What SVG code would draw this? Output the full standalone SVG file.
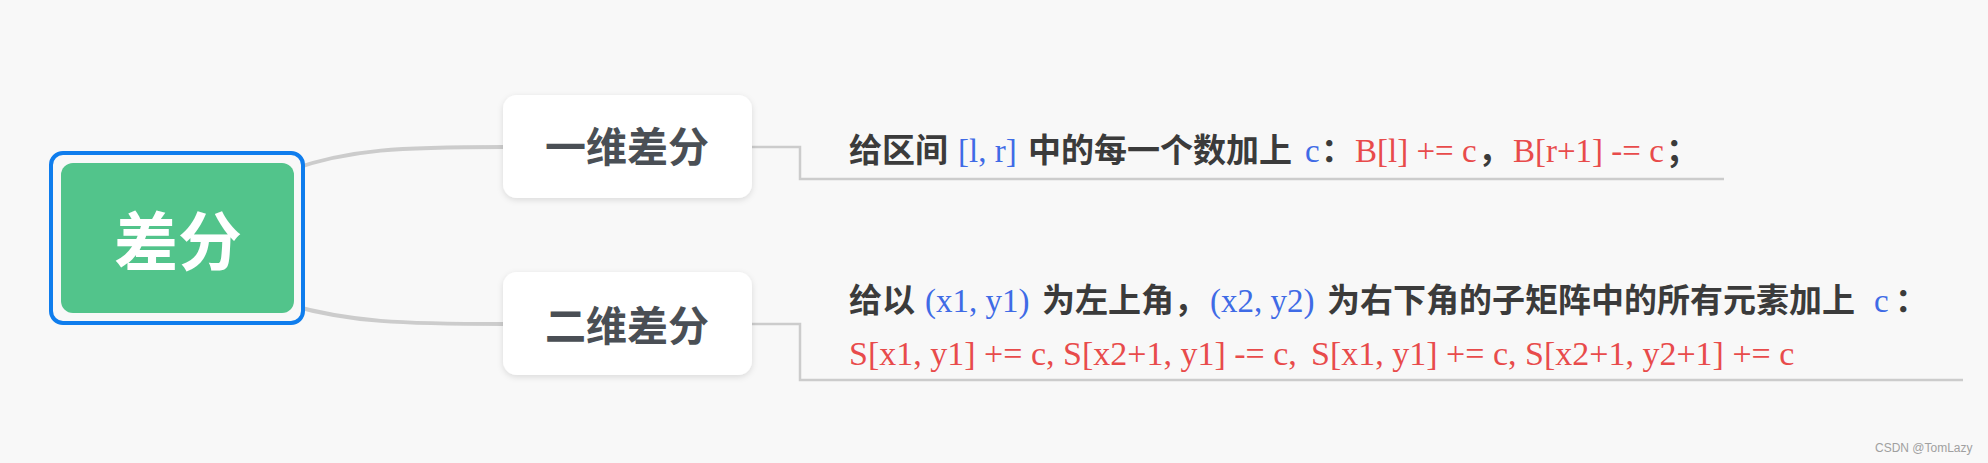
<svg xmlns="http://www.w3.org/2000/svg" width="1988" height="463" viewBox="0 0 1988 463">
<style>
.cjk{font-family:"Liberation Serif","Noto Sans CJK SC",serif;font-weight:bold;fill:#3b3b3b;font-size:33px}
.lat{font-family:"Liberation Serif","Noto Sans CJK SC",serif;font-size:33px}
.big{font-size:34px}
.blue{fill:#3f6be6}
.red{fill:#e84b4b}
.node{fill:#ffffff}
.ntext{font-family:"Liberation Serif","Noto Sans CJK SC",serif;font-weight:bold;font-size:41px;fill:#4a4f55;text-anchor:middle}
.curve{fill:none;stroke:#cccccc;stroke-width:4}
.elbow{fill:none;stroke:#cccccc;stroke-width:2.5}
</style>
<defs>
<filter id="sh" x="-20%" y="-30%" width="140%" height="160%">
<feDropShadow dx="0" dy="2" stdDeviation="3" flood-color="#000000" flood-opacity="0.12"/>
</filter>
</defs>
<rect x="0" y="0" width="1988" height="463" fill="#f8f8f8"/>
<g id="connectors">
<path class="curve" d="M 290 170 C 350 149, 400 147, 505 147"/>
<path class="curve" d="M 290 305 C 350 322, 400 324, 505 324"/>
<path class="elbow" d="M 752 147 H 800 V 179 H 1724"/>
<path class="elbow" d="M 752 324 H 800 V 380 H 1963"/>
</g>
<g id="root">
<rect x="51" y="153" width="252" height="170" rx="12" fill="#f8f8f8" stroke="#0f7ded" stroke-width="4"/>
<rect x="61" y="163" width="233" height="150" rx="12" fill="#52c48b"/>
<text x="178" y="265" text-anchor="middle" font-family="Liberation Serif, Noto Sans CJK SC, serif" font-weight="bold" font-size="64" fill="#ffffff">差分</text>
</g>
<g id="node1">
<rect class="node" x="503" y="95" width="249" height="103" rx="14" filter="url(#sh)"/>
<text class="ntext" x="627" y="162">一维差分</text>
</g>
<g id="node2">
<rect class="node" x="503" y="272" width="249" height="103" rx="14" filter="url(#sh)"/>
<text class="ntext" x="627" y="341">二维差分</text>
</g>
<g id="text1">
<text class="cjk" x="849" y="162">给区间</text>
<text class="lat blue" x="958" y="162">[l, r]</text>
<text class="cjk" x="1028" y="162">中的每一个数加上</text>
<text class="lat blue" x="1305" y="162">c</text>
<text class="cjk" x="1321" y="162">：</text>
<text class="lat red" x="1355" y="162">B[l] += c</text>
<text class="cjk" x="1478" y="162">，</text>
<text class="lat red" x="1513" y="162">B[r+1] -= c</text>
<text class="cjk" x="1666" y="162">；</text>
</g>
<g id="text2">
<text class="cjk" x="849" y="312">给以</text>
<text class="lat blue" x="925" y="312">(x1, y1)</text>
<text class="cjk" x="1042" y="312">为左上角，</text>
<text class="lat blue" x="1210" y="312">(x2, y2)</text>
<text class="cjk" x="1327" y="312">为右下角的子矩阵中的所有元素加上</text>
<text class="lat blue" x="1874" y="312">c</text>
<text class="cjk" x="1895" y="312">：</text>
<text class="lat big red" x="849" y="365">S[x1, y1] += c, S[x2+1, y1] -= c,</text>
<text class="lat big red" x="1311" y="365">S[x1, y1] += c, S[x2+1, y2+1] += c</text>
</g>
<text x="1875" y="452" font-family="Liberation Sans, Arial, sans-serif" font-size="12" fill="#a0a0a0">CSDN @TomLazy</text>
</svg>
